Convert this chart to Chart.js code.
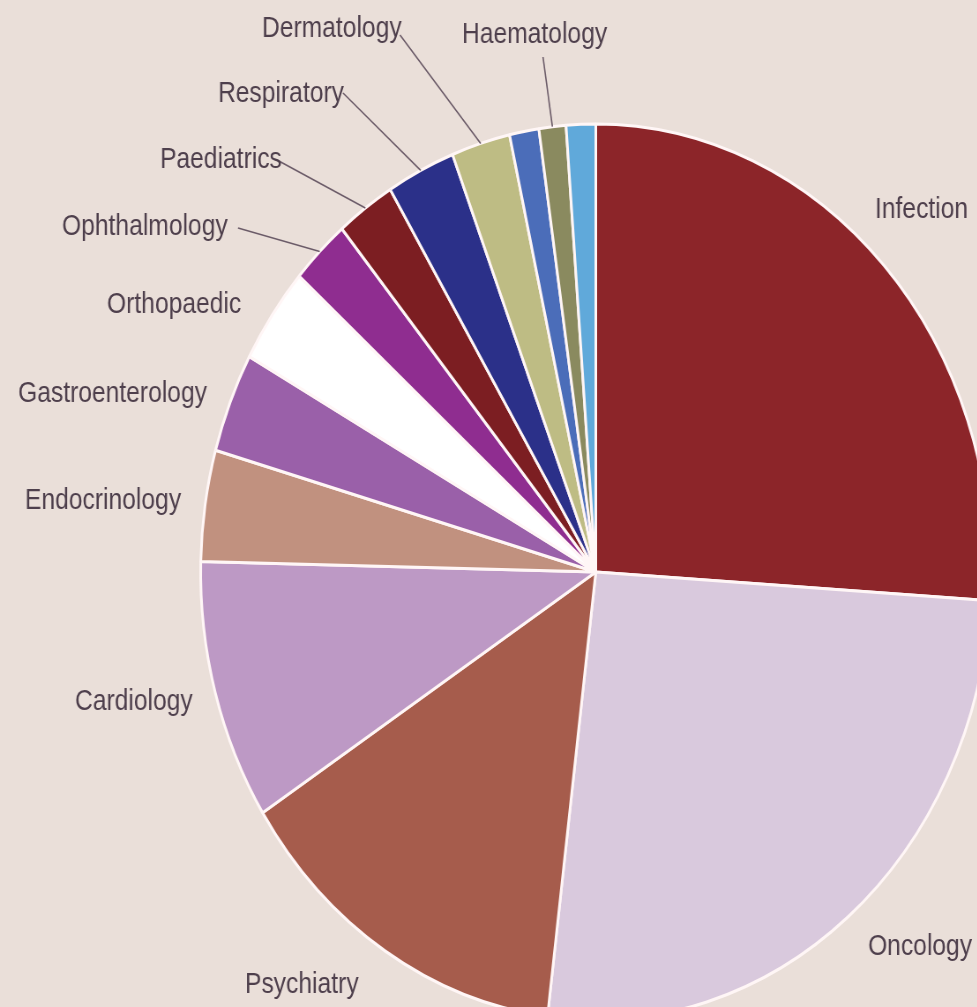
<!DOCTYPE html>
<html>
<head>
<meta charset="utf-8">
<script src="https://cdn.jsdelivr.net/npm/chart.js@4.4.1/dist/chart.umd.min.js"></script>
<style>
  html, body { margin: 0; padding: 0; background: #eadfd9; overflow: hidden; }
  #wrap { width: 1130px; height: 1026px; transform: scaleX(0.882); transform-origin: 0 0; }
</style>
</head>
<body>
<div id="wrap"><canvas id="pie" width="1130" height="1026"></canvas></div>
<script>
// ---- data ----
const categories = ['Infection', 'Oncology', 'Psychiatry', 'Cardiology', 'Endocrinology',
  'Gastroenterology', 'Orthopaedic', 'Ophthalmology', 'Paediatrics', 'Respiratory',
  'Dermatology', '', 'Haematology', ''];
const values = [26.0, 25.9, 14.0, 9.4, 4.0, 3.6, 3.5, 2.4, 2.4, 2.8, 2.4, 1.2, 1.1, 1.2];
const colors = ['#8c2529', '#d9c9dd', '#a65c4c', '#bd99c5', '#c1917f', '#9a60a9', '#ffffff',
  '#8f2d90', '#7c1e22', '#2b3089', '#bebc84', '#4b6db9', '#8a8a5f', '#60a9da'];

// label placement (final page px): left x, baseline y, optional leader start
const SX = 0.882;
const labelPos = {
  'Infection':        { x: 875, y: 218 },
  'Oncology':         { x: 868, y: 955 },
  'Psychiatry':       { x: 245, y: 993 },
  'Cardiology':       { x: 75,  y: 710 },
  'Endocrinology':    { x: 25,  y: 509 },
  'Gastroenterology': { x: 18,  y: 402 },
  'Orthopaedic':      { x: 107, y: 313 },
  'Ophthalmology':    { x: 62,  y: 235, lx: 238, ly: 228 },
  'Paediatrics':      { x: 160, y: 168, lx: 277, ly: 160 },
  'Respiratory':      { x: 218, y: 102, lx: 343, ly: 93 },
  'Dermatology':      { x: 262, y: 37,  lx: 400, ly: 35 },
  'Haematology':      { x: 462, y: 43,  lx: 543, ly: 57 }
};

const labelPlugin = {
  id: 'labels',
  afterDatasetsDraw(chart) {
    const ctx = chart.ctx;
    const arcs = chart.getDatasetMeta(0).data;
    ctx.save();
    categories.forEach((name, i) => {
      const p = labelPos[name];
      if (!p) return;
      if (p.lx !== undefined) {
        const a = arcs[i];
        const mid = (a.startAngle + a.endAngle) / 2;
        const ex = a.x + Math.cos(mid) * a.outerRadius;
        const ey = a.y + Math.sin(mid) * a.outerRadius;
        ctx.beginPath();
        ctx.moveTo(p.lx / SX, p.ly);
        ctx.lineTo(ex, ey);
        ctx.strokeStyle = '#6b5b68';
        ctx.lineWidth = 1.6;
        ctx.stroke();
      }
      ctx.save();
      ctx.translate(p.x / SX, p.y);
      ctx.scale(0.931, 1);
      ctx.font = '30px "Liberation Sans", Arial, sans-serif';
      ctx.fillStyle = '#4e3f4c';
      ctx.textAlign = 'left';
      ctx.textBaseline = 'alphabetic';
      ctx.fillText(name, 0, 0);
      ctx.restore();
    });
    ctx.restore();
  }
};

new Chart(document.getElementById('pie'), {
  type: 'pie',
  data: {
    labels: categories,
    datasets: [{
      data: values,
      backgroundColor: colors,
      borderColor: '#fff6f6',
      borderWidth: 3,
      radius: 448,
      clip: false
    }]
  },
  options: {
    responsive: false,
    animation: false,
    devicePixelRatio: 1,
    events: [],
    layout: { padding: { left: 221, top: 118, right: 0, bottom: 0 } },
    plugins: {
      legend: { display: false },
      tooltip: { enabled: false }
    }
  },
  plugins: [labelPlugin]
});
</script>
</body>
</html>
